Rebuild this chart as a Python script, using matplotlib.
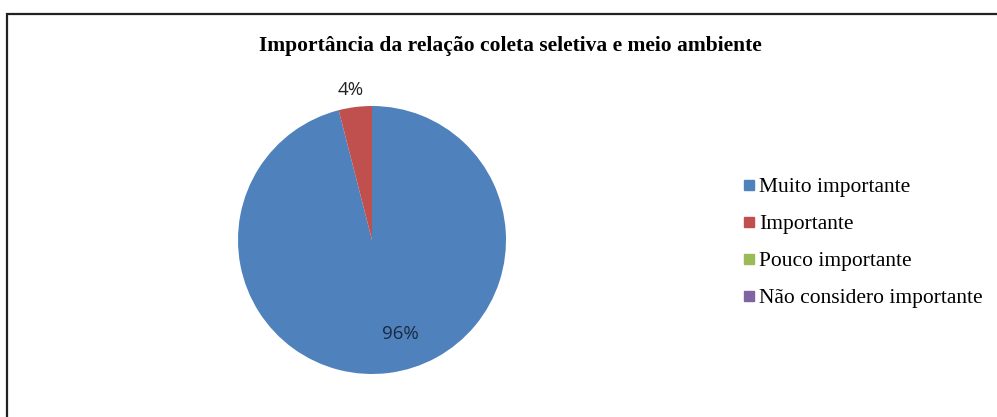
import matplotlib.pyplot as plt
from matplotlib.lines import Line2D
from matplotlib.patches import Rectangle

# dados do gráfico
categorias = ["Muito importante", "Importante", "Pouco importante", "Não considero importante"]
valores = [96, 4, 0, 0]
cores = ["#4F81BD", "#C0504D", "#9BBB59", "#8064A2"]
titulo = "Importância da relação coleta seletiva e meio ambiente"

W, H = 997, 417
fig = plt.figure(figsize=(W / 100, H / 100), dpi=100)
fig.patch.set_facecolor("white")

# moldura do gráfico (cortada à direita e embaixo)
fig.add_artist(Rectangle((7 / W, -0.05), 1.2, (H - 14) / H + 0.05,
                         transform=fig.transFigure, fill=False,
                         edgecolor="#222222", linewidth=1.6))

fig.text(510 / W, 1 - 46 / H, titulo, ha="center", va="center",
         family="Liberation Serif", weight="bold", fontsize=15.5)

# pizza: centro (372, 240), raio 134 px
cx, cy, r = 372, 240, 134
ax = fig.add_axes([(cx - r) / W, (H - cy - r) / H, 2 * r / W, 2 * r / H])
wedges, _ = ax.pie(valores, colors=cores, startangle=90, counterclock=False,
                   radius=1.0, wedgeprops=dict(linewidth=0))
ax.set_xlim(-1, 1)
ax.set_ylim(-1, 1)
ax.set_aspect("equal")

ax.text(-0.16, 1.12, f"{valores[1]}%", ha="center", va="center",
        family="Open Sans", fontsize=13.5, color="#222222")
ax.text(0.21, -0.70, f"{valores[0]}%", ha="center", va="center",
        family="Open Sans", fontsize=13.5, color="#1a2a40")

# legenda
handles = [Line2D([], [], marker="s", linestyle="none", markersize=7.5,
                  markerfacecolor=c, markeredgecolor=c) for c in cores]
leg = fig.legend(handles, categorias, loc="upper left",
                 bbox_to_anchor=(743 / W, 1 - 177 / H), frameon=False,
                 prop=dict(family="Liberation Serif", size=15.5),
                 handlelength=0.55, handletextpad=0.2, labelspacing=0.79,
                 borderpad=0, borderaxespad=0)

fig.savefig("out.png", dpi=100)
